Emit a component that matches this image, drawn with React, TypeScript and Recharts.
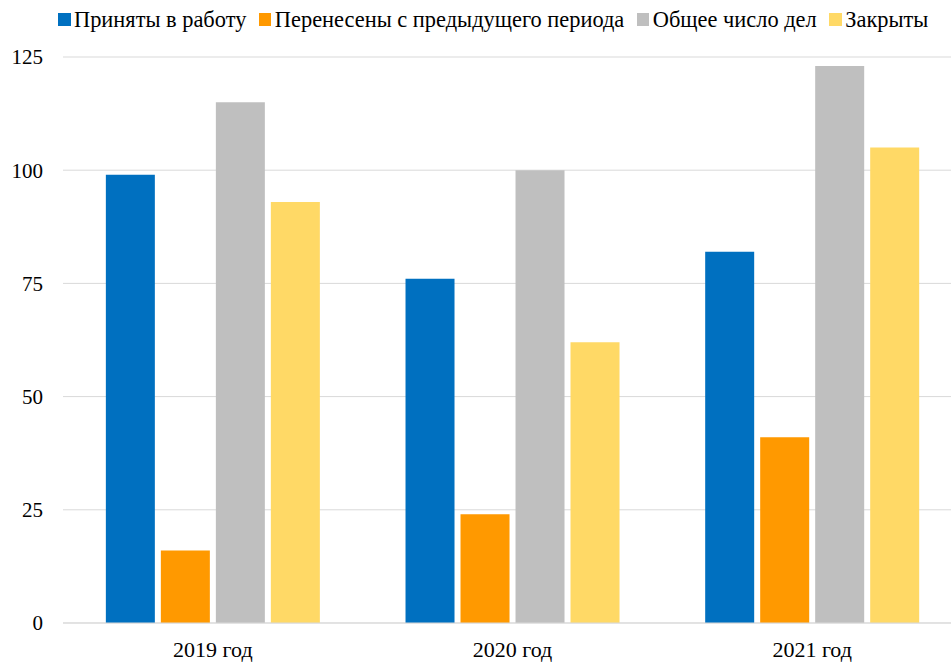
import React from "react";
import { BarChart, Bar, XAxis, YAxis, CartesianGrid, Legend } from "recharts";

const categories = ["2019 год", "2020 год", "2021 год"];
const accepted = [99, 76, 82];
const carried = [16, 24, 41];
const total = [115, 100, 123];
const closed = [93, 62, 105];
const yTicks = [0, 25, 50, 75, 100, 125];

const seriesKeys = ["accepted", "carried", "total", "closed"];
const seriesNames = [
  "Приняты в работу",
  "Перенесены с предыдущего периода",
  "Общее число дел",
  "Закрыты",
];
const seriesColors = ["#0070C0", "#FF9900", "#BFBFBF", "#FFD966"];

const data = categories.map((c, i) => ({
  name: c,
  accepted: accepted[i],
  carried: carried[i],
  total: total[i],
  closed: closed[i],
}));

const FONT = "'Liberation Serif', 'Times New Roman', serif";

const LegendContent = () => {
  return (
    <div
      style={{
        display: "flex",
        justifyContent: "flex-start",
        paddingLeft: 58,
        height: 39,
        fontFamily: FONT,
        fontSize: 22.4,
        color: "#000",
        alignItems: "center",
      }}
    >
      {seriesNames.map((n, i) => (
        <div key={i} style={{ display: "flex", alignItems: "center", marginRight: 12.5 }}>
          <span
            style={{
              display: "inline-block",
              width: 12.5,
              height: 12.5,
              background: seriesColors[i],
              marginRight: 3.5,
            }}
          />
          <span style={{ fontFamily: FONT, fontSize: 22.4, lineHeight: "24px" }}>{n}</span>
        </div>
      ))}
    </div>
  );
};

export default function App() {
  return (
    <div
      style={{
        position: "absolute",
        left: 0,
        top: 0,
        width: 951,
        height: 662,
        overflow: "hidden",
        background: "#fff",
      }}
    >
      <BarChart
        width={962}
        height={662}
        data={data}
        margin={{ top: 17, right: 0, left: 0, bottom: 0 }}
        barGap={6}
        barCategoryGap="14.3%"
      >
        <Legend
          verticalAlign="top"
          align="left"
          height={40}
          wrapperStyle={{ top: 0, left: 0 }}
          content={<LegendContent />}
        />
        <CartesianGrid vertical={false} stroke="#D9D9D9" strokeWidth={1} />
        <XAxis
          dataKey="name"
          height={39}
          tickLine={false}
          tickSize={0}
          tickMargin={18}
          axisLine={{ stroke: "#D9D9D9" }}
          tick={{ fontFamily: FONT, fontSize: 22, fill: "#000" }}
        />
        <YAxis
          width={63}
          domain={[0, 125]}
          ticks={yTicks}
          tickLine={false}
          axisLine={false}
          tickSize={0}
          tickMargin={20}
          tick={{ fontFamily: FONT, fontSize: 21, fill: "#000" }}
        />
        {seriesKeys.map((k, i) => (
          <Bar key={k} dataKey={k} name={seriesNames[i]} fill={seriesColors[i]} isAnimationActive={false} />
        ))}
      </BarChart>
    </div>
  );
}
